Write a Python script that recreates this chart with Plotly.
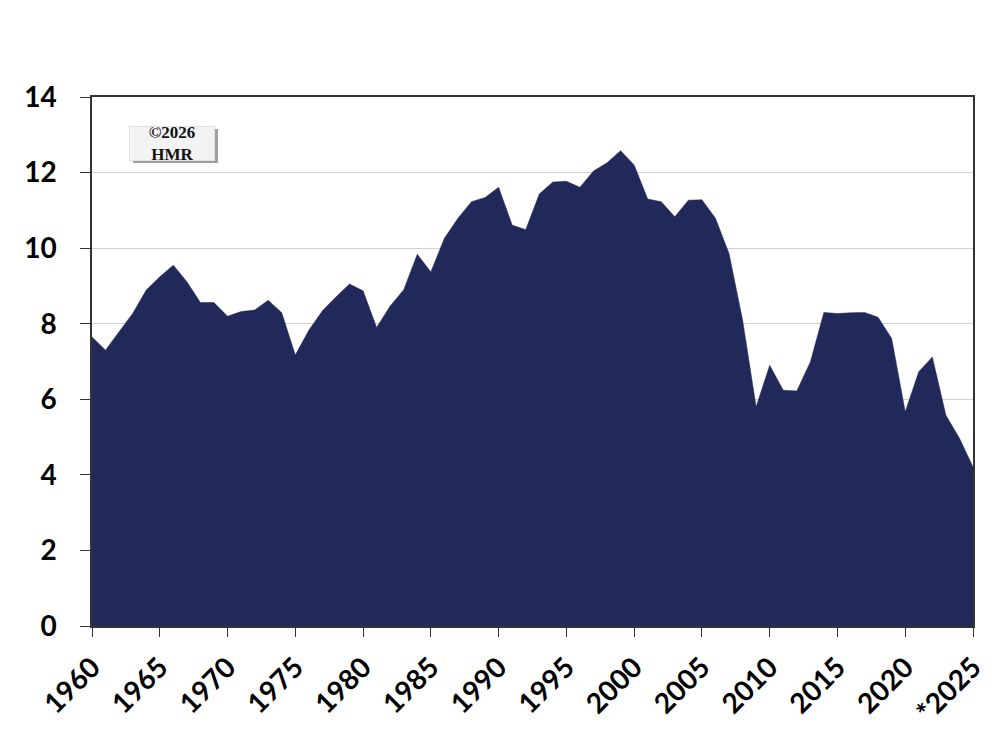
import plotly.graph_objects as go

years = list(range(1960, 2026))
values = [7.65, 7.30, 7.79, 8.27, 8.89, 9.24, 9.55, 9.11, 8.56, 8.56,
          8.20, 8.32, 8.36, 8.62, 8.29, 7.17, 7.83, 8.34, 8.71, 9.05,
          8.87, 7.90, 8.47, 8.90, 9.84, 9.37, 10.26, 10.79, 11.23, 11.34,
          11.61, 10.61, 10.49, 11.43, 11.75, 11.77, 11.61, 12.04, 12.26, 12.58,
          12.20, 11.30, 11.23, 10.83, 11.27, 11.28, 10.79, 9.86, 8.10, 5.80,
          6.90, 6.24, 6.22, 6.99, 8.30, 8.27, 8.29, 8.30, 8.17, 7.61,
          5.67, 6.73, 7.12, 5.58, 4.97, 4.21]
x_tickvals = [1960, 1965, 1970, 1975, 1980, 1985, 1990, 1995, 2000, 2005, 2010, 2015, 2020, 2025]
x_ticktext = ["1960", "1965", "1970", "1975", "1980", "1985", "1990", "1995", "2000",
              "2005", "2010", "2015", "2020", "*2025"]
y_tickvals = [0, 2, 4, 6, 8, 10, 12, 14]

fill_color = "#21285a"

fig = go.Figure()
fig.add_trace(go.Scatter(
    x=years, y=values, mode="lines", fill="tozeroy",
    fillcolor=fill_color, line=dict(color=fill_color, width=0.5),
    hoverinfo="x+y", showlegend=False,
))

tick_font = dict(family="Lato, 'Open Sans', sans-serif", size=28, color="black", weight="bold")

# page has an 8px body margin: figure is placed at (8, 8) on screen
OFF = 8
W, H = 992 - OFF, 738 - OFF
# target plot area on screen: x 92..973, y 97..626
L = 92 - OFF
R = W - (973 - OFF)
T = 97 - OFF
B = H - (626 - OFF)
PW, PH = W - L - R, H - T - B

def px(xs):
    return (xs - 92) / PW

def py(ys):
    return (626 - ys) / PH

fig.update_layout(
    width=W, height=H,
    margin=dict(l=L, r=R, t=T, b=B, autoexpand=False),
    paper_bgcolor="white", plot_bgcolor="white",
    xaxis=dict(
        range=[1960, 2025], tickvals=x_tickvals, ticktext=x_ticktext,
        tickangle=-45, tickfont=tick_font, ticks="outside", ticklen=9,
        tickcolor="#333", showgrid=False, zeroline=False, automargin=False,
        showline=True, linecolor="#333", linewidth=1.5, mirror=True,
        ticklabelstandoff=3,
    ),
    yaxis=dict(
        range=[0, 14], tickvals=y_tickvals, tickfont=tick_font,
        ticks="outside", ticklen=10, tickcolor="#333", automargin=False,
        showgrid=True, gridcolor="#d0d0d0", gridwidth=1, zeroline=False,
        showline=True, linecolor="#333", linewidth=1.5, mirror=True,
        ticklabelstandoff=18,
    ),
)

# shadow behind the copyright box
fig.add_shape(type="rect", xref="paper", yref="paper",
              x0=px(133), x1=px(218), y0=py(163), y1=py(129),
              fillcolor="#a0a0a0", line=dict(width=0), layer="above")
fig.add_annotation(
    xref="paper", yref="paper", xanchor="center", yanchor="middle",
    x=px(172), y=py(143),
    text="<b>©2026<br>HMR</b>", showarrow=False,
    font=dict(family="'Liberation Serif', 'Times New Roman', serif", size=17, color="#111"),
    bgcolor="#f3f3f3", bordercolor="#e0e0e0", borderwidth=1, borderpad=0,
    width=84, height=33, align="center",
)

fig.write_html("out.html")
